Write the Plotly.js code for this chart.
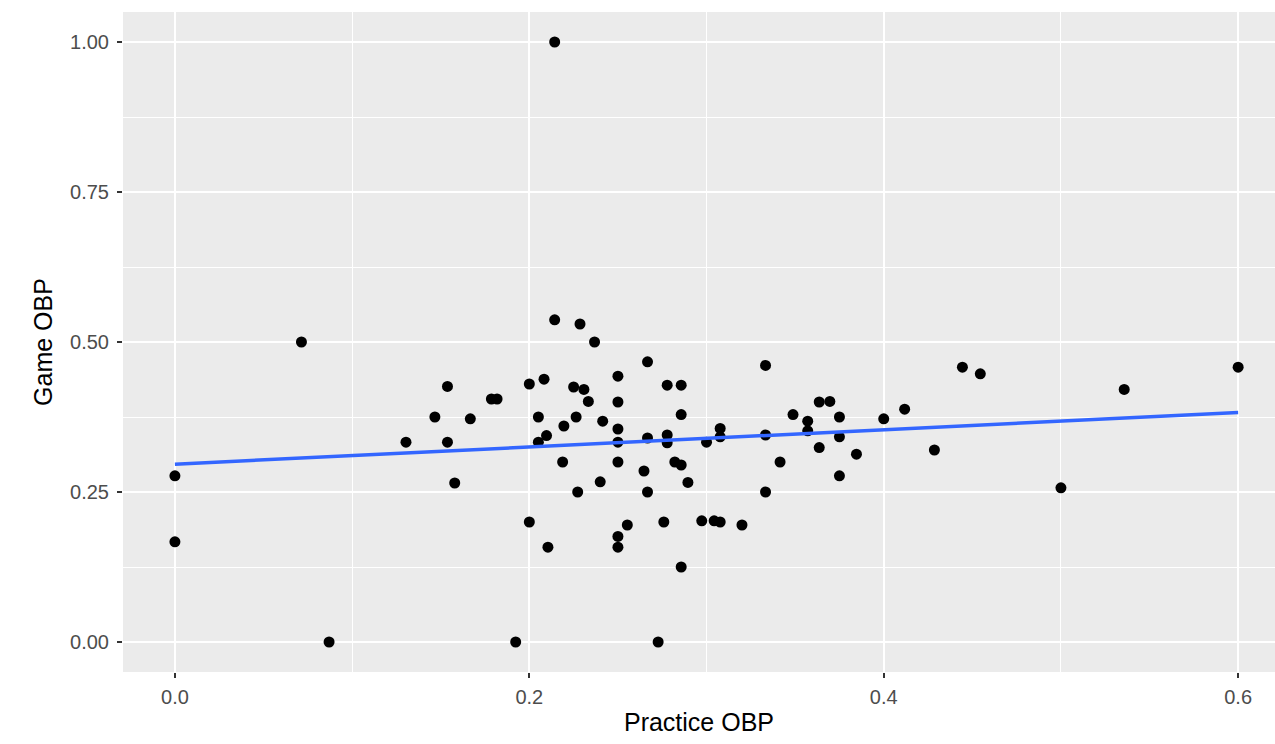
<!DOCTYPE html>
<html>
<head>
<meta charset="utf-8">
<script src="https://cdn.plot.ly/plotly-3.0.1.min.js"></script>
<style>
html,body{margin:0;padding:0;background:#fff;}
#chart{width:1275px;height:744px;}
</style>
</head>
<body>
<div id="chart"></div>
<script>
var practiceOBP = [0, 0, 0.0714, 0.087, 0.2143, 0.1304, 0.1467, 0.1538, 0.1538, 0.1579,
  0.1667, 0.1786, 0.1818, 0.2, 0.2, 0.1923, 0.2051, 0.2051, 0.2083, 0.2097,
  0.2105, 0.2143, 0.2195, 0.2188, 0.2250, 0.2264, 0.2273, 0.2286, 0.2308, 0.2333,
  0.2368, 0.2400, 0.2414, 0.25, 0.25, 0.25, 0.25, 0.25, 0.25, 0.25,
  0.2553, 0.2647, 0.2667, 0.2667, 0.2667, 0.2727, 0.2759, 0.2778, 0.2778, 0.2778,
  0.2821, 0.2857, 0.2857, 0.2857, 0.2857, 0.2895, 0.2973, 0.3000, 0.3043, 0.3077,
  0.3077, 0.3077, 0.3200, 0.3333, 0.3333, 0.3333, 0.3415, 0.3488, 0.3571, 0.3571,
  0.3636, 0.3636, 0.3696, 0.375, 0.375, 0.375, 0.3846, 0.4, 0.4118, 0.4286,
  0.4444, 0.4545, 0.5, 0.5357, 0.6];
var gameOBP = [0.277, 0.167, 0.5, 0, 1.0, 0.333, 0.375, 0.426, 0.333, 0.265,
  0.372, 0.405, 0.405, 0.43, 0.2, 0, 0.375, 0.333, 0.438, 0.344,
  0.158, 0.537, 0.36, 0.3, 0.425, 0.375, 0.25, 0.53, 0.421, 0.401,
  0.5, 0.267, 0.368, 0.443, 0.4, 0.355, 0.333, 0.3, 0.176, 0.158,
  0.195, 0.285, 0.467, 0.34, 0.25, 0, 0.2, 0.428, 0.345, 0.332,
  0.3, 0.428, 0.379, 0.295, 0.125, 0.266, 0.202, 0.333, 0.202, 0.2,
  0.356, 0.342, 0.195, 0.461, 0.345, 0.25, 0.3, 0.379, 0.368, 0.352,
  0.4, 0.324, 0.401, 0.375, 0.342, 0.277, 0.313, 0.372, 0.388, 0.32,
  0.458, 0.447, 0.257, 0.421, 0.458];
var fitX = [0, 0.6];
var fitY = [0.2964, 0.3825];
var xTicks = [0, 0.2, 0.4, 0.6];
var xTickText = ["0.0", "0.2", "0.4", "0.6"];
var yTicks = [0, 0.25, 0.5, 0.75, 1.0];
var yTickText = ["0.00", "0.25", "0.50", "0.75", "1.00"];

var traces = [
  {
    x: practiceOBP, y: gameOBP, type: 'scatter', mode: 'markers',
    marker: {color: '#000000', size: 11},
    hoverinfo: 'x+y', showlegend: false
  },
  {
    x: fitX, y: fitY, type: 'scatter', mode: 'lines',
    line: {color: '#3366FF', width: 3.5},
    hoverinfo: 'skip', showlegend: false
  }
];

var layout = {
  width: 1275, height: 744,
  margin: {l: 123, r: 0, t: 12, b: 72, pad: 0},
  paper_bgcolor: '#FFFFFF',
  plot_bgcolor: '#EBEBEB',
  font: {family: '"Liberation Sans", Arial, sans-serif', color: '#4D4D4D'},
  showlegend: false,
  xaxis: {
    range: [-0.0293, 0.6208],
    tickvals: xTicks, ticktext: xTickText,
    showgrid: true, gridcolor: '#FFFFFF', gridwidth: 2,
    minor: {dtick: 0.1, tick0: 0, showgrid: true, gridcolor: '#FFFFFF', gridwidth: 1, ticks: ''},
    zeroline: false, showline: false,
    ticks: 'outside', ticklen: 5, tickwidth: 1.5, tickcolor: '#333333',
    ticklabelstandoff: 2,
    tickfont: {size: 20, color: '#4D4D4D'},
    title: {text: 'Practice OBP', font: {size: 25, color: '#000000'}, standoff: 6},
    automargin: false, fixedrange: true
  },
  yaxis: {
    range: [-0.05, 1.05],
    tickvals: yTicks, ticktext: yTickText,
    showgrid: true, gridcolor: '#FFFFFF', gridwidth: 2,
    minor: {dtick: 0.125, tick0: 0, showgrid: true, gridcolor: '#FFFFFF', gridwidth: 1, ticks: ''},
    zeroline: false, showline: false,
    ticks: 'outside', ticklen: 5, tickwidth: 1.5, tickcolor: '#333333',
    ticklabelstandoff: 4,
    tickfont: {size: 20, color: '#4D4D4D'},
    title: {text: 'Game OBP', font: {size: 25, color: '#000000'}, standoff: 10},
    automargin: false, fixedrange: true
  }
};

Plotly.newPlot('chart', traces, layout, {displayModeBar: false, staticPlot: false});
</script>
</body>
</html>
